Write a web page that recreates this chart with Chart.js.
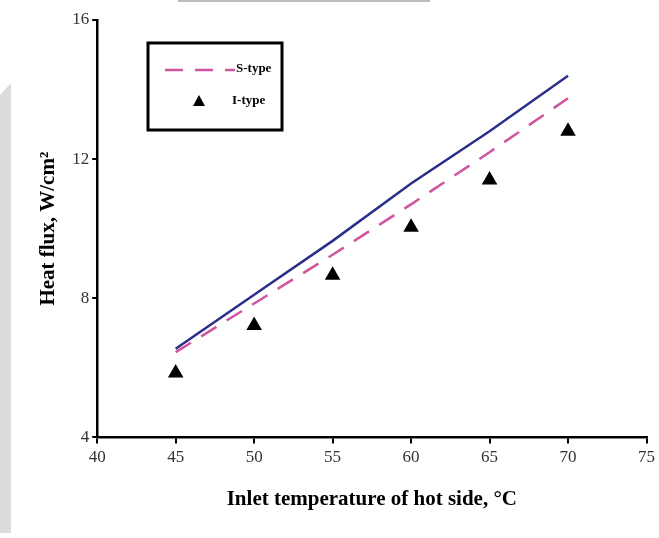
<!DOCTYPE html>
<html>
<head>
<meta charset="utf-8">
<script src="https://cdn.jsdelivr.net/npm/chart.js@4.4.0/dist/chart.umd.min.js"></script>
<style>
  html, body { margin: 0; padding: 0; background: #fff; }
  #wrap { width: 659px; height: 538px; position: relative; }
</style>
</head>
<body>
<div id="wrap"><canvas id="chart" width="659" height="538"></canvas></div>
<script>
// inlet temperature of hot side (°C)
const temps = [45, 50, 55, 60, 65, 70];
// solid line
const calcFlux = [6.55, 8.1, 9.65, 11.3, 12.8, 14.4];
// S-type, dashed
const sTypeFlux = [6.45, 7.85, 9.25, 10.7, 12.2, 13.75];
// I-type, triangles
const iTypeFlux = [5.85, 7.22, 8.66, 10.04, 11.4, 12.8];

const xTicks = [40, 45, 50, 55, 60, 65, 70, 75];
const yTicks = [4, 8, 12, 16];

const SERIF = '"Liberation Serif", "Times New Roman", serif';

function toPoints(ys) {
  return temps.map((t, i) => ({ x: t, y: ys[i] }));
}

// white page, grey scan band on the left edge and the thin rule on top
const pagePlugin = {
  id: 'page',
  beforeDraw(chart) {
    const ctx = chart.ctx;
    ctx.save();
    ctx.fillStyle = '#fff';
    ctx.fillRect(0, 0, chart.width, chart.height);
    ctx.fillStyle = '#dcdcdc';
    ctx.beginPath();
    ctx.moveTo(0, 95);
    ctx.lineTo(11, 83);
    ctx.lineTo(11, 533);
    ctx.lineTo(0, 533);
    ctx.closePath();
    ctx.fill();
    ctx.fillStyle = '#bdbdbd';
    ctx.fillRect(178, 0, 252, 2);
    ctx.restore();
  }
};

// boxed legend for the S-type and I-type series
const boxLegend = {
  id: 'boxLegend',
  afterDraw(chart) {
    const ctx = chart.ctx;
    const s = chart.data.datasets[1];
    const it = chart.data.datasets[2];
    ctx.save();
    ctx.strokeStyle = '#000';
    ctx.lineWidth = 3;
    ctx.strokeRect(148, 43, 134, 87);

    ctx.strokeStyle = s.borderColor;
    ctx.lineWidth = s.borderWidth;
    ctx.setLineDash([18, 12]);
    ctx.beginPath();
    ctx.moveTo(165, 70);
    ctx.lineTo(235, 70);
    ctx.stroke();
    ctx.setLineDash([]);

    ctx.fillStyle = it.pointBackgroundColor;
    ctx.beginPath();
    ctx.moveTo(199, 95);
    ctx.lineTo(205, 106);
    ctx.lineTo(193, 106);
    ctx.closePath();
    ctx.fill();

    ctx.fillStyle = '#000';
    ctx.font = 'bold 13px ' + SERIF;
    ctx.textBaseline = 'middle';
    ctx.fillText(s.label, 236, 69);
    ctx.fillText(it.label, 232, 101);
    ctx.restore();
  }
};

new Chart(document.getElementById('chart'), {
  type: 'line',
  data: {
    datasets: [
      {
        label: 'Calculated',
        data: toPoints(calcFlux),
        borderColor: '#2b2f8a',
        borderWidth: 2.5,
        pointRadius: 0,
        tension: 0
      },
      {
        label: 'S-type',
        data: toPoints(sTypeFlux),
        borderColor: '#d0559f',
        borderWidth: 2.5,
        borderDash: [18, 12],
        pointRadius: 0,
        tension: 0
      },
      {
        label: 'I-type',
        data: toPoints(iTypeFlux),
        showLine: false,
        pointStyle: 'triangle',
        pointRadius: 9,
        pointBackgroundColor: '#000',
        pointBorderColor: '#000',
        pointBorderWidth: 0
      }
    ]
  },
  options: {
    responsive: false,
    animation: false,
    layout: { padding: { top: 20, right: 0, bottom: 22, left: 32 } },
    plugins: {
      legend: { display: false },
      tooltip: { enabled: false }
    },
    scales: {
      x: {
        type: 'linear',
        min: 40,
        max: 75,
        afterBuildTicks: (axis) => { axis.ticks = xTicks.map(v => ({ value: v })); },
        border: { display: true, color: '#000', width: 2.5 },
        grid: { drawOnChartArea: false, drawTicks: true, tickLength: 6, color: '#000', lineWidth: 2 },
        ticks: { color: '#333', font: { family: SERIF, size: 17 }, padding: 4 },
        title: {
          display: true,
          text: 'Inlet temperature of hot side, °C',
          color: '#000',
          font: { family: SERIF, size: 21, weight: 'bold' },
          padding: { top: 15 }
        }
      },
      y: {
        type: 'linear',
        min: 4,
        max: 16,
        afterBuildTicks: (axis) => { axis.ticks = yTicks.map(v => ({ value: v })); },
        border: { display: true, color: '#000', width: 2.5 },
        grid: { drawOnChartArea: false, drawTicks: true, tickLength: 5, color: '#000', lineWidth: 2 },
        ticks: { color: '#333', font: { family: SERIF, size: 17 }, padding: 3 },
        title: {
          display: true,
          text: 'Heat flux, W/cm²',
          color: '#000',
          font: { family: SERIF, size: 21, weight: 'bold' },
          padding: { bottom: 8 }
        }
      }
    }
  },
  plugins: [pagePlugin, boxLegend]
});
</script>
</body>
</html>
